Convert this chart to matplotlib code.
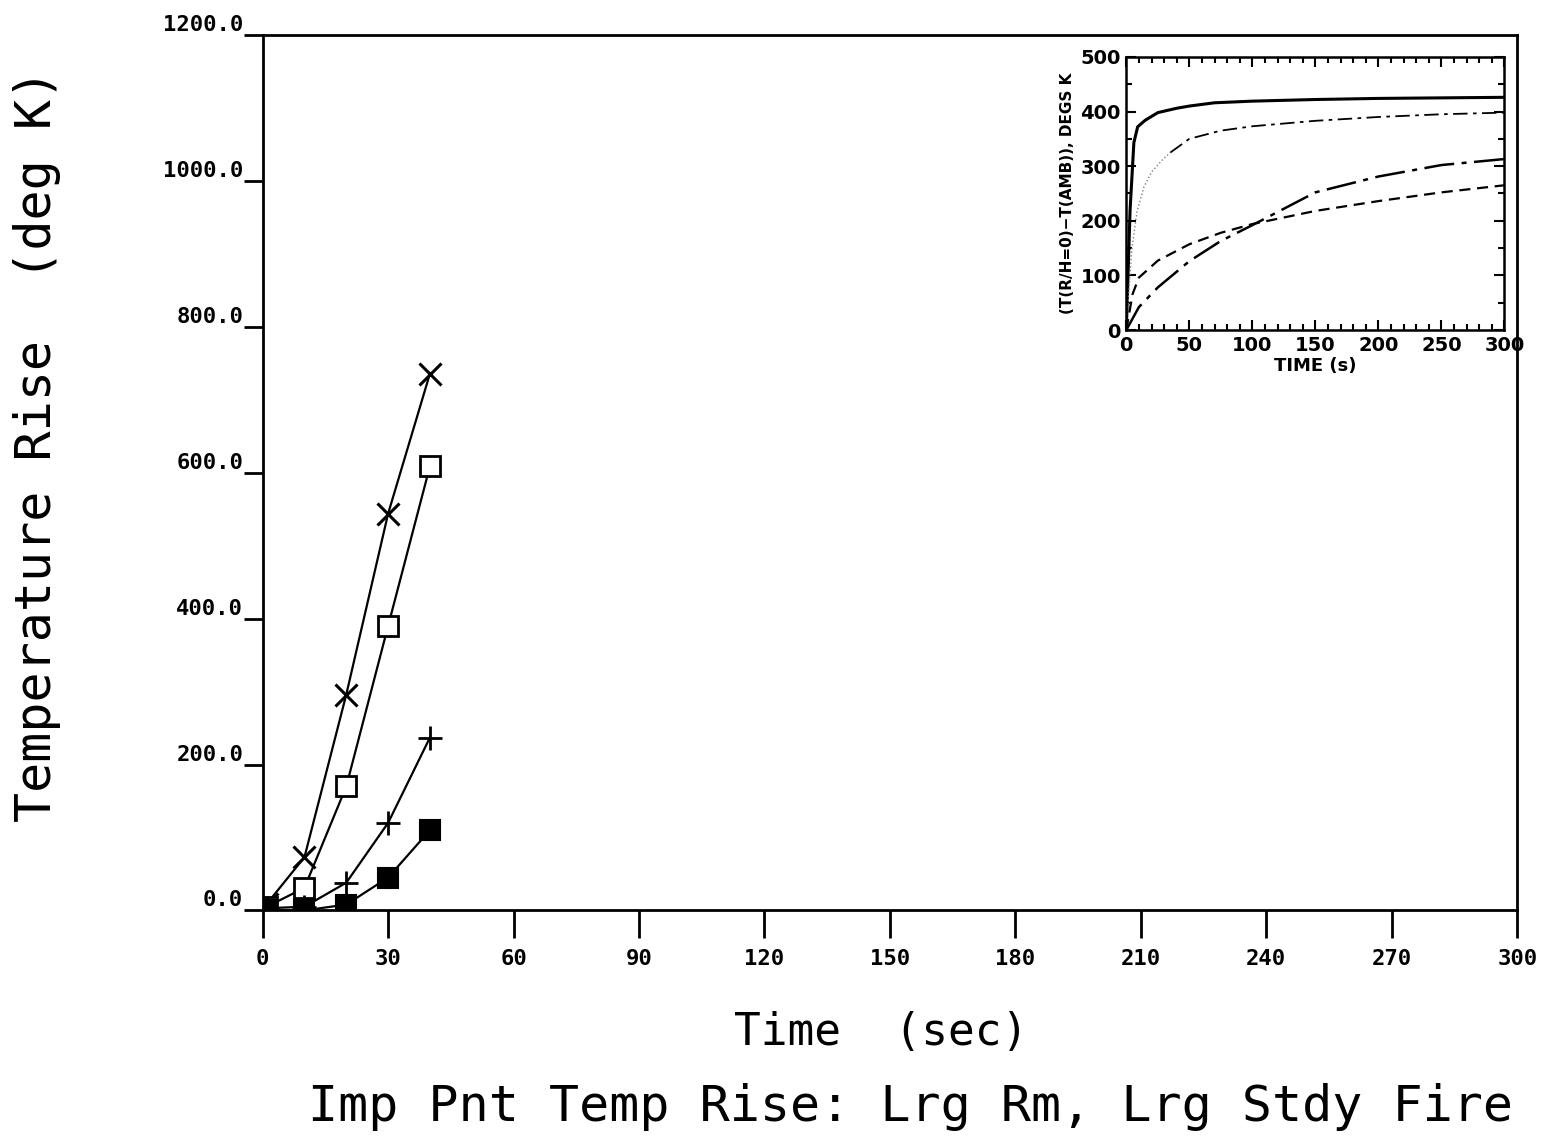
import matplotlib
matplotlib.use('Agg')
from matplotlib import pyplot as plt
from matplotlib.ticker import MultipleLocator

# main plot data (time in sec, temperature rise in deg K)
t = [1, 10, 20, 30, 40]
rise_x = [9, 73, 296, 544, 736]
rise_sq = [5, 31, 170, 390, 609]
rise_plus = [3, 5, 38, 120, 237]
rise_fill = [0, 0, 8, 45, 110]

x_ticks = [0, 30, 60, 90, 120, 150, 180, 210, 240, 270, 300]
y_ticks = [0, 200, 400, 600, 800, 1000, 1200]

# inset data (time in s, T(R/H=0)-T(AMB) in degs K)
ins_solid_t = [0, 3, 6, 9, 15, 25, 40, 50, 70, 100, 150, 200, 250, 300]
ins_solid_v = [0, 220, 343, 372, 384, 398, 406, 410, 416, 419, 422, 424, 425, 426]
ins_dd_t = [0, 2, 4.5, 8.5, 14, 20, 28, 35, 50, 75, 100, 150, 200, 250, 300]
ins_dd_v = [0, 70, 150, 217, 262, 289, 310, 325, 350, 365, 373, 383, 390, 395, 398]
ins_ldd_t = [0, 10, 25, 50, 75, 100, 135, 150, 200, 250, 300]
ins_ldd_v = [0, 42, 78, 126, 163, 192, 234, 252, 281, 302, 313]
ins_dash_t = [0, 5, 10, 25, 50, 75, 100, 150, 200, 250, 300]
ins_dash_v = [0, 66, 96, 127, 157, 178, 194, 218, 236, 252, 265]

mono = 'DejaVu Sans Mono'
narrow = ['Liberation Sans Narrow', 'DejaVu Sans']

fig = plt.figure(figsize=(15.45, 11.38), dpi=100)
ax = fig.add_axes([0.170, 0.200, 0.812, 0.769])

ax.plot(t, rise_x, color='black', lw=1.6, marker='x', ms=16, mew=2.2)
ax.plot(t, rise_sq, color='black', lw=1.6, marker='s', ms=14, mew=2.0,
        mfc='white')
ax.plot(t, rise_plus, color='black', lw=1.6, marker='+', ms=17, mew=2.0)
ax.plot(t, rise_fill, color='black', lw=1.6, marker='s', ms=14, mew=1.5,
        mfc='black')

ax.set_xlim(0, 300)
ax.set_ylim(0, 1200)
ax.set_xticks(x_ticks)
ax.set_yticks(y_ticks)
ax.set_xticklabels([str(v) for v in x_ticks], family=mono, fontsize=16,
                   fontweight='bold')
ax.set_yticklabels(['%.1f' % v for v in y_ticks], family=mono, fontsize=16,
                   fontweight='bold')
for lab in ax.get_yticklabels():
    lab.set_va('bottom')
ax.tick_params(axis='x', direction='out', length=20, width=2, pad=8)
ax.tick_params(axis='y', direction='out', length=14, width=2, pad=0)
for s in ax.spines.values():
    s.set_linewidth(2)

fig.text(0.570, 0.093, 'Time  (sec)', family=mono, fontsize=32,
         ha='center', va='center')
fig.text(0.024, 0.609, 'Temperature Rise  (deg K)', family=mono,
         fontsize=36, rotation=90, ha='center', va='center')
fig.text(0.589, 0.027, 'Imp Pnt Temp Rise: Lrg Rm, Lrg Stdy Fire',
         family=mono, fontsize=36, ha='center', va='center')

# inset
ins = fig.add_axes([0.729, 0.710, 0.2447, 0.240])
ins.plot(ins_solid_t, ins_solid_v, color='black', lw=2.2)
ins.plot(ins_dd_t[:8], ins_dd_v[:8], color='gray', lw=1.0, ls=':')
ins.plot(ins_dd_t[7:], ins_dd_v[7:], color='black', lw=1.3,
         ls=(0, (8, 3, 2, 3)))
ins.plot(ins_ldd_t, ins_ldd_v, color='black', lw=1.8,
         ls=(0, (12, 3, 2, 3)))
ins.plot(ins_dash_t, ins_dash_v, color='black', lw=1.6, ls=(0, (5, 3)))
ins.set_xlim(0, 300)
ins.set_ylim(0, 500)
ins.xaxis.set_major_locator(MultipleLocator(50))
ins.xaxis.set_minor_locator(MultipleLocator(10))
ins.yaxis.set_major_locator(MultipleLocator(100))
ins.yaxis.set_minor_locator(MultipleLocator(50))
ins.tick_params(which='both', direction='in', top=True, right=True,
                width=1.5)
ins.tick_params(which='major', length=7, labelsize=14, pad=4)
ins.tick_params(which='minor', length=4)
for lab in ins.get_xticklabels() + ins.get_yticklabels():
    lab.set_family(narrow)
    lab.set_fontweight('bold')
for s in ins.spines.values():
    s.set_linewidth(1.8)
ins.set_xlabel('TIME (s)', family=narrow, fontweight='bold', fontsize=13,
               labelpad=2)
ins.set_ylabel('(T(R/H=0)\u2212T(AMB)), DEGS K', family=narrow,
               fontweight='bold', fontsize=11, labelpad=4)

plt.savefig('out.png')
plt.close()
